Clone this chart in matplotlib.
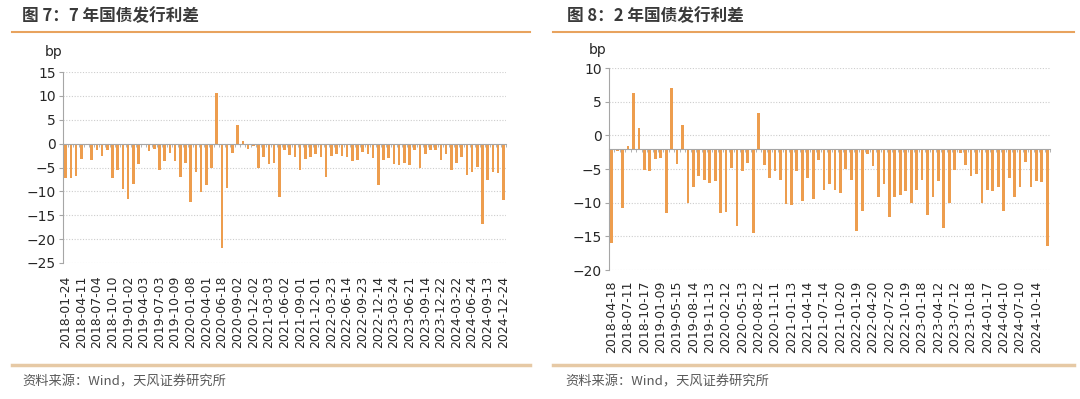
import numpy as np
import matplotlib.pyplot as plt
from matplotlib.lines import Line2D

plt.rcParams['font.family'] = ['DejaVu Sans', 'Noto Sans CJK SC']
CJK = ['Noto Sans CJK SC', 'DejaVu Sans']

# 图7：7年国债发行利差 (bp)，每3期标一个日期
labels_7y = ['2018-01-24', '2018-04-11', '2018-07-04', '2018-10-10', '2019-01-02',
             '2019-04-03', '2019-07-03', '2019-10-09', '2020-01-08', '2020-04-01',
             '2020-06-18', '2020-09-02', '2020-12-02', '2021-03-03', '2021-06-02',
             '2021-09-01', '2021-12-01', '2022-03-23', '2022-06-14', '2022-09-23',
             '2022-12-14', '2023-03-24', '2023-06-21', '2023-09-14', '2023-12-22',
             '2024-03-22', '2024-06-24', '2024-09-13', '2024-12-24']
spread_7y = [-7.1, -7.3, -6.8, -3.2, -0.3, -3.5, -1.4, -2.5, -1.4, -7.3,
             -5.6, -9.5, -11.7, -8.4, -4.3, -0.2, -1.5, -1.1, -5.5, -3.6,
             -2.0, -3.6, -7.0, -4.1, -12.3, -5.9, -10.2, -8.6, -5.2, 10.5,
             -21.9, -9.3, -2.0, 3.8, 0.5, -1.1, -0.5, -5.0, -2.9, -4.3,
             -4.1, -11.1, -1.3, -2.3, -2.7, -5.5, -3.2, -2.8, -2.1, -2.8,
             -6.9, -2.5, -2.1, -2.6, -2.8, -3.7, -3.5, -1.7, -2.1, -3.0,
             -8.6, -3.5, -3.1, -4.3, -4.4, -4.1, -4.4, -1.4, -5.2, -2.2,
             -1.4, -1.3, -3.4, -2.1, -5.6, -4.1, -2.7, -6.5, -6.0, -4.9,
             -16.8, -7.7, -6.0, -6.2, -11.9]

# 图8：2年国债发行利差 (bp)
labels_2y = ['2018-04-18', '2018-07-11', '2018-10-17', '2019-01-09', '2019-05-15',
             '2019-08-14', '2019-11-13', '2020-02-12', '2020-05-13', '2020-08-12',
             '2020-11-11', '2021-01-13', '2021-04-14', '2021-07-14', '2021-10-20',
             '2022-01-19', '2022-04-20', '2022-07-20', '2022-10-19', '2023-01-18',
             '2023-04-12', '2023-07-12', '2023-10-18', '2024-01-17', '2024-04-10',
             '2024-07-10', '2024-10-14']
spread_2y = [-16.0, -2.4, -10.8, -1.6, 6.3, 1.1, -5.2, -5.3, -3.5, -3.4,
             -11.5, 7.1, -4.3, 1.6, -10.0, -7.6, -6.1, -6.6, -7.1, -6.8,
             -11.5, -11.4, -4.9, -13.5, -5.3, -4.1, -14.5, 3.3, -4.4, -6.4,
             -5.3, -6.6, -10.2, -10.4, -5.3, -9.7, -6.3, -9.5, -3.6, -8.1,
             -7.3, -8.1, -8.6, -5.0, -6.6, -14.2, -11.2, -2.8, -4.6, -9.1,
             -7.3, -12.2, -9.1, -8.8, -8.3, -10.0, -8.1, -6.6, -11.8, -9.1,
             -6.8, -13.7, -10.0, -5.1, -2.6, -4.4, -6.1, -5.8, -10.0, -8.1,
             -8.3, -7.6, -11.2, -6.3, -9.1, -7.6, -3.9, -7.6, -6.8, -7.0,
             -16.5]

BAR = '#ED9D4E'
AXIS = '#A6A6A6'
TXT = '#262626'


def draw_panel(ax, values, labels, base, ylim, step, pad):
    n = len(values)
    x = np.arange(n)
    v = np.array(values)
    ax.bar(x, v - base, bottom=base, width=0.5, color=BAR, zorder=3)
    ax.set_xlim(-0.5, n - 0.5)
    ax.set_ylim(*ylim)
    ax.set_yticks(np.arange(ylim[0], ylim[1] + 1, step))
    ax.yaxis.grid(True, color='#CDCDCD', linestyle=(0, (1, 1.5)), linewidth=0.8)
    ax.set_axisbelow(True)
    for s in ['top', 'right']:
        ax.spines[s].set_visible(False)
    ax.spines['left'].set_color(AXIS)
    ax.spines['bottom'].set_color(AXIS)
    ax.spines['bottom'].set_position(('data', base))
    ax.spines['bottom'].set_zorder(4)
    ax.set_xticks([])
    ax.set_xticks(np.arange(n + 1) - 0.5, minor=True)
    ax.tick_params(axis='x', which='minor', length=2.5, color=AXIS,
                   labelbottom=False)
    ax.tick_params(axis='y', length=3, color=AXIS, labelsize=10,
                   labelcolor=TXT, pad=2)
    sec = ax.secondary_xaxis('bottom')
    sec.set_xticks(x[::3][:len(labels)], labels, rotation=90)
    sec.tick_params(length=0, pad=pad, labelsize=9, labelcolor=TXT)
    sec.spines['bottom'].set_visible(False)


fig = plt.figure(figsize=(10.8, 3.99), dpi=100)
W, H = 1080, 399

ax1 = fig.add_axes([63 / W, (H - 263) / H, 443 / W, 191 / H])
draw_panel(ax1, spread_7y, labels_7y, 0, (-25, 15), 5, 9)

ax2 = fig.add_axes([609 / W, (H - 270) / H, 441 / W, 202 / H])
draw_panel(ax2, spread_2y, labels_2y, -2, (-20, 10), 5, 7.5)

# 标题、单位与来源
fig.text(22 / W, 1 - 16 / H, '图 7：7 年国债发行利差', family=CJK, fontsize=12,
         fontweight='bold', color='#3A3A3A', va='center')
fig.text(567 / W, 1 - 16 / H, '图 8：2 年国债发行利差', family=CJK, fontsize=12,
         fontweight='bold', color='#3A3A3A', va='center')
fig.text(54 / W, 1 - 52 / H, 'bp', fontsize=10, color=TXT, ha='center', va='center')
fig.text(598 / W, 1 - 50 / H, 'bp', fontsize=10, color=TXT, ha='center', va='center')
fig.text(22 / W, 1 - 382 / H, '资料来源：Wind，天风证券研究所', family=CJK,
         fontsize=9.5, color='#595959', va='center')
fig.text(565 / W, 1 - 382 / H, '资料来源：Wind，天风证券研究所', family=CJK,
         fontsize=9.5, color='#595959', va='center')

# 标题下与底部的分隔线
for x0, x1 in [(12, 530), (553, 1074)]:
    fig.add_artist(Line2D([x0 / W, x1 / W], [1 - 32 / H] * 2, color='#E8A35E',
                          linewidth=1.5, transform=fig.transFigure))
    fig.add_artist(Line2D([x0 / W, x1 / W], [1 - 365 / H] * 2, color='#E6C9A5',
                          linewidth=2.5, transform=fig.transFigure))

fig.savefig('out.png', dpi=100)
